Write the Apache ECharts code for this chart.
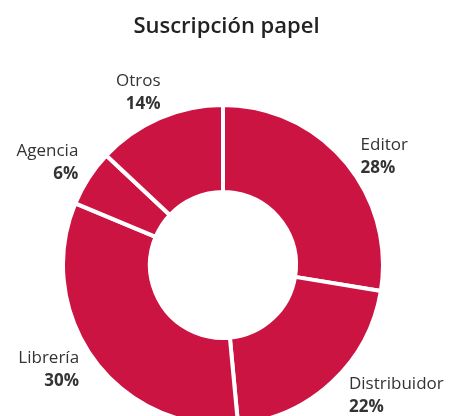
<!DOCTYPE html>
<html>
<head>
<meta charset="utf-8">
<script src="https://cdn.jsdelivr.net/npm/echarts@6/dist/echarts.min.js"></script>
<style>
  html, body { margin: 0; padding: 0; background: #fff; }
  #main { width: 453px; height: 416px; }
</style>
</head>
<body>
<div id="main"></div>
<script>
// slice sizes as drawn (measured from the arcs), printed labels as shown
var categories = ['Editor', 'Distribuidor', 'Librería', 'Agencia', 'Otros'];
var values = [27.6, 20.9, 32.8, 5.7, 13.0];
var percentLabels = ['28%', '22%', '30%', '6%', '14%'];

// small label nudges [dx, dy]
var nudges = [[3, 2], [5, 6], [-2, 4], [3, -10], [10, -16]];

var chart = echarts.init(document.getElementById('main'));

var data = [];
for (var i = 0; i < categories.length; i++) {
  data.push({ name: categories[i], value: values[i] });
}

chart.setOption({
  animation: false,
  title: {
    text: 'Suscripción papel',
    left: 'center',
    top: 11,
    textStyle: {
      fontFamily: 'Open Sans',
      fontWeight: 600,
      fontSize: 22,
      color: '#222'
    }
  },
  series: [{
    type: 'pie',
    center: [223, 265],
    radius: [73, 160],
    startAngle: 90,
    clockwise: true,
    avoidLabelOverlap: false,
    data: data,
    itemStyle: {
      color: '#cc1442',
      borderColor: '#fff',
      borderWidth: 4
    },
    label: {
      show: true,
      position: 'outside',
      formatter: function (p) {
        return '{n|' + p.name + '}\n{p|' + percentLabels[p.dataIndex] + '}';
      },
      rich: {
        n: { fontFamily: 'Open Sans', fontSize: 17, color: '#333', lineHeight: 23 },
        p: { fontFamily: 'Open Sans', fontSize: 17, fontWeight: 'bold', color: '#333', lineHeight: 23 }
      }
    },
    labelLine: { show: false, length: 10, length2: 0 },
    labelLayout: function (params) {
      var n = nudges[params.dataIndex];
      return { dx: n[0], dy: n[1] };
    }
  }]
});
</script>
</body>
</html>
